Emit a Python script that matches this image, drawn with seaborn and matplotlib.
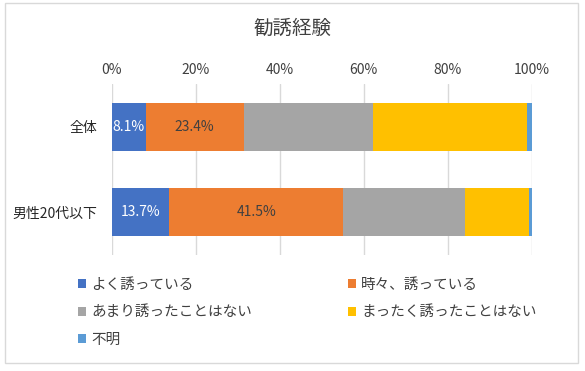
import matplotlib
matplotlib.use("Agg")
import matplotlib.pyplot as plt
import matplotlib.patches as mpatches
import seaborn as sns
import pandas as pd
from matplotlib.ticker import PercentFormatter

categories = ["全体", "男性20代以下"]
series = ["よく誘っている", "時々、誘っている", "あまり誘ったことはない",
          "まったく誘ったことはない", "不明"]
yoku = [8.1, 13.7]
tokidoki = [23.4, 41.5]
amari = [30.7, 28.9]
mattaku = [36.7, 15.3]
fumei = [1.1, 0.6]
colors = ["#4472C4", "#ED7D31", "#A5A5A5", "#FFC000", "#5B9BD5"]
label_colors = ["white", "#404040"]  # labels only on first two series

sns.set_theme(style="white")
plt.rcParams["font.family"] = ["Noto Sans CJK JP", "DejaVu Sans"]

df = pd.DataFrame({"category": categories, series[0]: yoku, series[1]: tokidoki,
                   series[2]: amari, series[3]: mattaku, series[4]: fumei})
# long form with cumulative right edges, drawn back to front so each segment shows
long = df.melt(id_vars="category", var_name="series", value_name="value")
long["series"] = pd.Categorical(long["series"], series, ordered=True)
long = long.sort_values(["category", "series"])
long["right"] = long.groupby("category", sort=False)["value"].cumsum()

fig = plt.figure(figsize=(5.85, 3.71), dpi=100)
fig.patches.append(mpatches.Rectangle((5 / 585, 1 - 363 / 371), 573 / 585, 360 / 371,
                                      transform=fig.transFigure, fill=False,
                                      edgecolor="#D9D9D9", linewidth=1))
ax = fig.add_axes([111.5 / 585, 1 - 255 / 371, 420 / 585, 171 / 371])

for i in reversed(range(len(series))):
    part = long[long["series"] == series[i]]
    sns.barplot(data=part, x="right", y="category", order=categories, orient="h",
                color=colors[i], width=0.56, saturation=1, ax=ax, label=series[i],
                linewidth=0, zorder=3)

for i in range(2):
    part = long[long["series"] == series[i]].set_index("category")
    for j, c in enumerate(categories):
        v = part.loc[c, "value"]
        r = part.loc[c, "right"]
        ax.text(r - v / 2, j, f"{v:.1f}%", ha="center", va="center", fontsize=10,
                color=label_colors[i], zorder=4)

ax.set_xlim(0, 100)
ax.set_ylim(1.5, -0.5)
ax.xaxis.set_major_formatter(PercentFormatter(decimals=0))
ax.set_xticks(range(0, 101, 20))
ax.xaxis.tick_top()
ax.tick_params(axis="x", length=0, pad=5, labelsize=10, labelcolor="#404040")
ax.tick_params(axis="y", length=0, pad=10, labelsize=10, labelcolor="#262626")
ax.grid(axis="x", color="#D9D9D9", linewidth=1, zorder=0)
ax.set_axisbelow(True)
for sp in ax.spines.values():
    sp.set_visible(False)
ax.set_xlabel("")
ax.set_ylabel("")

fig.text(292.5 / 585, 1 - 28 / 371, "勧誘経験", ha="center", va="center",
         fontsize=14, color="#404040")

handles, labels = ax.get_legend_handles_labels()
if ax.get_legend() is not None:
    ax.get_legend().remove()
lookup = dict(zip(labels, handles))
order = [0, 2, 4, 1, 3]  # row-major reading order in two columns
fig.legend([lookup[series[k]] for k in order], [series[k] for k in order], ncol=2,
           loc="upper left", bbox_to_anchor=(78 / 585, 1 - 278 / 371), frameon=False,
           borderpad=0, borderaxespad=0,
           fontsize=10.5, handlelength=0.55, handleheight=0.55, handletextpad=0.35,
           columnspacing=6.6, labelspacing=0.92, labelcolor="#404040")

fig.savefig("out.png", dpi=100)
